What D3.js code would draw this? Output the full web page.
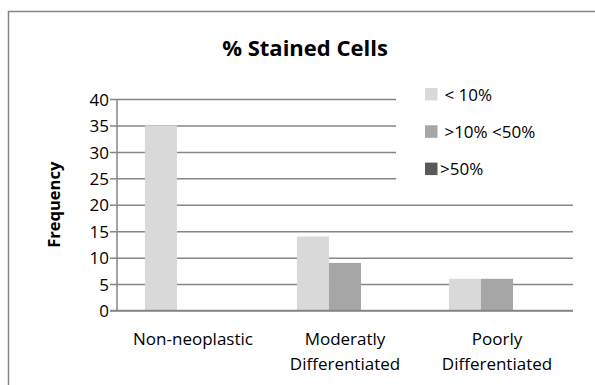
<!DOCTYPE html>
<html>
<head>
<meta charset="utf-8">
<script src="https://cdn.jsdelivr.net/npm/d3@7"></script>
<style>
    body { margin: 0; background: #fff; }
    svg { display: block; font-family: 'Open Sans', sans-serif; }
</style>
</head>
<body>
<script>
// data
var categories = [['Non-neoplastic'], ['Moderatly', 'Differentiated'], ['Poorly', 'Differentiated']];
var seriesNames = [' < 10%', ' >10% <50%', '>50%'];
var lowValues = [35, 14, 6];
var midValues = [0, 9, 6];
var highValues = [0, 0, 0];
var yTicks = [0, 5, 10, 15, 20, 25, 30, 35, 40];

var width = 595,
    height = 385,
    colors = ['#d9d9d9', '#a6a6a6', '#595959'],
    gridColor = '#868686',
    labelSize = '17px';

var margin = { top: 99, right: 22, bottom: 75, left: 117 };

var svg = d3.select('body').append('svg')
    .attr('width', width)
    .attr('height', height);

// chart frame (cut off at right and bottom, like the reference)
svg.append('rect')
    .attr('x', 8.5)
    .attr('y', 11.5)
    .attr('width', 600)
    .attr('height', 400)
    .attr('fill', 'none')
    .attr('stroke', gridColor)
    .attr('stroke-width', 1.5);

var x0 = d3.scaleBand()
    .domain(d3.range(categories.length))
    .range([margin.left, width - margin.right]);

var x1 = d3.scaleBand()
    .domain(d3.range(seriesNames.length))
    .range([0, x0.bandwidth()])
    .paddingOuter(0.87);

var y = d3.scaleLinear()
    .domain([0, 40])
    .range([height - margin.bottom + 0.5, margin.top]);

var g = svg.append('g');

// gridlines with ticks to the left
var yAxis = d3.axisLeft(y)
    .tickValues(yTicks)
    .tickSize(-(width - margin.right - margin.left) - 7)
    .tickPadding(13)
    .tickFormat(d3.format('d'));

var ax = g.append('g')
    .attr('transform', 'translate(' + (margin.left - 7) + ',0)')
    .call(yAxis);
ax.select('.domain').remove();
ax.selectAll('.tick line')
    .attr('stroke', gridColor)
    .attr('stroke-width', 1.5);
ax.selectAll('.tick text')
    .attr('x', -1)
    .attr('dy', '0.36em')
    .attr('fill', '#000')
    .style('font-size', labelSize)
    .style('font-family', "'Open Sans', sans-serif");

// vertical axis line
g.append('line')
    .attr('x1', margin.left)
    .attr('x2', margin.left)
    .attr('y1', y(40))
    .attr('y2', y(0))
    .attr('stroke', gridColor)
    .attr('stroke-width', 1.5);

// bars
var series = [lowValues, midValues, highValues];
series.forEach(function (vals, s) {
    g.selectAll('rect.s' + s)
        .data(vals)
        .enter().append('rect')
        .attr('class', 's' + s)
        .attr('x', function (d, i) { return x0(i) + x1(s); })
        .attr('y', function (d) { return y(d); })
        .attr('width', x1.bandwidth())
        .attr('height', function (d) { return y(0) - y(d); })
        .attr('fill', colors[s]);
});

// redraw baseline on top
g.append('line')
    .attr('x1', margin.left - 7)
    .attr('x2', width - margin.right)
    .attr('y1', y(0))
    .attr('y2', y(0))
    .attr('stroke', gridColor)
    .attr('stroke-width', 1.5);

// category labels
var cat = g.selectAll('text.cat')
    .data(categories)
    .enter().append('text')
    .attr('class', 'cat')
    .attr('text-anchor', 'middle')
    .style('font-size', labelSize)
    .attr('fill', '#000');
cat.selectAll('tspan')
    .data(function (d, i) { return d.map(function (t) { return { t: t, i: i }; }); })
    .enter().append('tspan')
    .attr('x', function (d) { return x0(d.i) + x0.bandwidth() / 2; })
    .attr('y', function (d, j) { return 345 + j * 25; })
    .text(function (d) { return d.t; });

// y axis title
svg.append('text')
    .attr('transform', 'translate(60,' + ((y(0) + y(40)) / 2) + ') rotate(-90)')
    .attr('text-anchor', 'middle')
    .style('font-size', '16.5px')
    .style('font-weight', 'bold')
    .text('Frequency');

// title
svg.append('text')
    .attr('x', 305)
    .attr('y', 56)
    .attr('text-anchor', 'middle')
    .style('font-size', '22px')
    .style('font-weight', 'bold')
    .text('% Stained Cells');

// legend (white box covers the upper gridlines)
var legend = svg.append('g');
legend.append('rect')
    .attr('x', 396)
    .attr('y', 80)
    .attr('width', 178)
    .attr('height', 110)
    .attr('fill', '#fff');

var item = legend.selectAll('g.item')
    .data(seriesNames)
    .enter().append('g')
    .attr('class', 'item')
    .attr('transform', function (d, i) { return 'translate(425,' + (88 + i * 37.3) + ')'; });
item.append('rect')
    .attr('width', 12.5)
    .attr('height', 12.5)
    .attr('fill', function (d, i) { return colors[i]; });
item.append('text')
    .attr('x', 15)
    .attr('y', 12.5)
    .style('font-size', labelSize)
    .style('white-space', 'pre')
    .attr('xml:space', 'preserve')
    .text(function (d) { return d; });
</script>
</body>
</html>
